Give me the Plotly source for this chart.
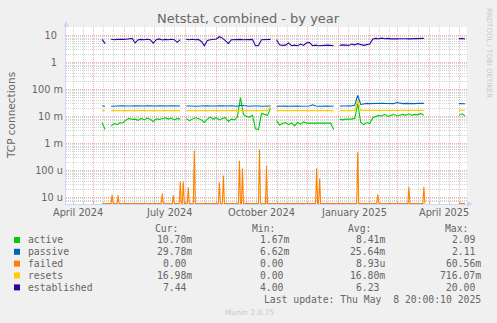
import plotly.graph_objects as go
import pandas as pd

# ---------------- data ----------------
START = pd.Timestamp("2024-04-03 20:00:10")
END = pd.Timestamp("2025-05-08 20:00:10")

# sample positions, days since START (None values mark gaps)
sample_days = list(range(36, 358, 3)) + [375, 392, 395, 398]

established = [
    7.2, 5.0, None, 7.3, 7.0, 7.2, 7.0, 7.2, 7.3, 7.5,
    7.8, 5.3, 7.0, 7.2, 7.0, 7.3, 7.0, 5.2, 7.0, 7.5,
    6.8, 7.2, 7.0, 7.3, 7.0, 5.6, 7.0, None, 7.2, 7.0,
    7.3, 7.0, 7.2, 6.0, 4.2, 6.5, 7.0, 7.2, 7.4, 9.0,
    8.0, 6.5, 5.0, 7.0, 7.2, 7.0, 7.2, 7.0, 7.2, 7.0,
    7.2, 4.2, 4.3, 7.0, 7.2, 7.0, 7.2, None, 7.0, 4.5,
    4.3, 4.4, 5.3, 4.2, 4.4, 4.2, 4.8, 4.3, 5.4, 5.5,
    4.2, 4.4, 4.2, 4.3, 4.2, 4.4, 4.3, 4.2, None, 4.3,
    4.5, 4.4, 4.3, 4.8, 4.5, 5.0, 4.5, 4.3, 4.6, 4.8,
    7.5, 7.8, 7.6, 8.0, 7.6, 7.8, 7.5, 7.7, 7.5, 7.6,
    7.4, 7.6, 7.5, 7.6, 7.5, 7.5, 7.7, 7.8,
    None, 7.6, 7.8, 7.44,
]

active_m = [
    6.0, 3.3, None, 4.5, 5.5, 5.0, 5.8, 6.0, 7.5, 8.5,
    7.8, 8.0, 7.2, 8.5, 7.5, 8.8, 8.0, 6.5, 8.2, 7.8,
    8.5, 9.0, 8.0, 8.8, 7.5, 8.5, 8.0, None, 8.5, 7.0,
    8.0, 9.0, 8.5, 7.5, 6.0, 8.0, 9.5, 8.0, 9.0, 7.5,
    8.5, 9.0, 6.5, 8.0, 7.5, 9.5, 50.0, 12.0, 10.0, 9.5,
    11.0, 3.5, 3.3, 13.0, 12.0, 11.0, 20.0, None, 7.0, 4.8,
    5.5, 6.0, 5.0, 5.8, 4.5, 6.0, 5.2, 6.3, 5.7, 5.7,
    5.7, 5.7, 5.8, 5.7, 5.6, 5.7, 5.7, 3.3, None, 8.0,
    7.5, 8.0, 7.8, 8.0, 8.5, 30.0, 6.0, 5.0, 6.0, 5.5,
    9.0, 10.0, 11.0, 10.5, 12.0, 10.0, 11.0, 12.0, 10.5, 11.5,
    12.0, 11.0, 12.5, 11.0, 12.0, 11.5, 13.0, 11.0,
    None, 11.0, 12.5, 10.7,
]

passive_m = [
    25, 24, None, 24, 24.5, 24, 24.5, 25, 24.5, 24,
    24.5, 25, 24.5, 24, 24.5, 25, 24.5, 24, 24.5, 25,
    24.5, 24, 24.5, 25, 24.5, 24, 24.5, None, 24.5, 25,
    24.5, 24, 24.5, 25, 24.5, 25, 24.5, 24, 24.5, 25,
    24.5, 24, 24.5, 25, 24.5, 24, 26, 25, 24.5, 24,
    24.5, 25, 24.5, 24, 24.5, 25, 24.5, None, 24, 24.5,
    25, 24.5, 24, 24.5, 25, 24.5, 24, 24.5, 25, 24.5,
    27, 24.5, 24, 24.5, 25, 24.5, 24, 24.5, None, 24.5,
    24, 24.5, 25, 24.5, 26, 60, 28, 30, 30.5, 30,
    30.5, 30, 30.5, 31, 30.5, 30, 30.5, 30, 33, 30.5,
    30, 30.5, 30, 30.5, 30, 30.5, 30, 30.5,
    None, 30, 30.5, 29.78,
]

resets_m = [
    16.5, 16.5, None, 16.5, 16.5, 16.5, 16.5, 16.5, 16.5, 16.5,
    16.5, 16.5, 16.5, 16.5, 16.5, 16.5, 16.5, 16.5, 16.5, 16.5,
    16.5, 16.5, 16.5, 16.5, 16.5, 16.5, 16.5, None, 16.5, 16.5,
    16.5, 16.5, 16.5, 16.5, 16.5, 16.5, 16.5, 16.5, 16.5, 16.5,
    16.5, 16.5, 16.5, 16.5, 16.5, 16.5, 17.0, 16.5, 16.5, 16.5,
    16.5, 16.5, 16.5, 16.5, 16.5, 16.5, 25.0, None, 16.5, 16.5,
    16.5, 16.5, 16.5, 16.5, 16.5, 16.5, 16.5, 16.5, 16.5, 16.5,
    16.5, 16.5, 16.5, 16.5, 16.5, 16.5, 16.5, 16.5, None, 16.5,
    16.5, 16.5, 16.5, 16.5, 16.5, 40.0, 16.8, 16.8, 16.8, 16.8,
    16.8, 16.8, 16.8, 16.8, 16.8, 16.8, 16.8, 16.8, 16.8, 16.8,
    16.8, 16.8, 16.8, 16.8, 16.8, 16.8, 16.8, 16.8,
    None, 16.98, 16.98, 16.98,
]

# failed: zero except for these spikes (days since START, value in micro)
failed_spike_days = [46, 52, 96, 107, 114, 117, 122, 128, 153, 157,
                     173, 176, 193, 200, 250, 253, 291, 311, 342, 357]
failed_spike_u = [12.6, 12, 14, 12, 39, 39, 24, 550, 36, 65,
                  230, 120, 600, 150, 120, 50, 470, 13, 25, 25]
failed_first_day, failed_last_day = 36, 357
failed_tail_days = [392, 398]

# legend table text
series_names = ["active", "passive", "failed", "resets", "established"]
series_colors = ["#00CC00", "#0066B3", "#FF8000", "#FFCC00", "#330099"]
cur_vals = ["10.70m", "29.78m", "0.00", "16.98m", "7.44"]
min_vals = ["1.67m", "6.62m", "0.00", "0.00", "4.00"]
avg_vals = ["8.41m", "25.64m", "8.93u", "16.80m", "6.23"]
max_vals = ["2.09", "2.11", "60.56m", "716.07m", "20.00"]

y_tick_vals = [10, 1, 0.1, 0.01, 0.001, 1e-4, 1e-5]
y_tick_text = ["10", "1", "100 m", "10 m", "1 m", "100 u", "10 u"]
x_label_dates = ["2024-04-16", "2024-07-16", "2024-10-16", "2025-01-16", "2025-04-16"]
x_label_text = ["April 2024", "July 2024", "October 2024", "January 2025", "April 2025"]

# ---------------- geometry ----------------
W, H = 497, 323
L, R, T, B = 66, 467, 27, 204
PW, PH = R - L, B - T
YMIN, YMAX = -5.241, 1.315
FLOOR = 10 ** (YMIN + 0.02)


def pxx(x):
    return (x - L) / PW


def pxy(y):
    return (B - y) / PH


def to_dates(days):
    return [START + pd.Timedelta(days=d) for d in days]


xs = to_dates(sample_days)
milli = lambda arr: [None if v is None else v * 1e-3 for v in arr]

# failed series built from spikes
fdays, fvals = [failed_first_day], [0.0]
for d, v in zip(failed_spike_days, failed_spike_u):
    fdays += [d - 1, d, d + 1]
    fvals += [0.0, v * 1e-6, 0.0]
fdays += [failed_last_day + 1, 375] + failed_tail_days
fvals += [0.0, None, 0.0, 0.0]
fplot = [None if v is None else max(v, FLOOR) for v in fvals]

fig = go.Figure()
series_y = [milli(active_m), milli(passive_m), None, milli(resets_m), established]
for name, color, ys in zip(series_names, series_colors, series_y):
    if name == "failed":
        fig.add_trace(go.Scatter(x=to_dates(fdays), y=fplot, mode="lines",
                                 line=dict(color=color, width=1.1), name=name))
    else:
        fig.add_trace(go.Scatter(x=xs, y=ys, mode="lines",
                                 line=dict(color=color, width=1.1), name=name))

month_starts = list(pd.date_range("2024-04-01", "2025-05-01", freq="MS"))
minor_x = []
for ms in month_starts:
    minor_x += [ms + pd.Timedelta(days=10), ms + pd.Timedelta(days=20)]

minor_y = [k * 10.0 ** e for e in range(-6, 2) for k in range(2, 10)]

RED = "rgba(230,100,100,0.50)"
GREY = "rgba(150,150,150,0.42)"
AXIS = "#CFD6F8"
FONT = "DejaVu Sans"
MONO = "DejaVu Sans Mono"
TXT = "#666666"

fig.update_layout(
    width=W, height=H,
    margin=dict(l=L, r=W - R, t=T, b=H - B, pad=0),
    paper_bgcolor="#F0F0F0", plot_bgcolor="#FFFFFF",
    showlegend=False,
    font=dict(family=FONT, size=9.75, color=TXT),
    xaxis=dict(
        type="date", range=[START, END], showline=True, linecolor=AXIS, linewidth=1,
        tickmode="array", tickvals=month_starts, ticktext=[""] * len(month_starts),
        showgrid=True, gridcolor=RED, griddash="1px,1px", gridwidth=1,
        ticks="inside", ticklen=3, tickcolor=RED, zeroline=False,
        minor=dict(tickmode="array", tickvals=minor_x, showgrid=True, gridcolor=GREY,
                   griddash="1px,1px", gridwidth=1, ticks="inside", ticklen=2,
                   tickcolor=GREY),
        fixedrange=True,
    ),
    yaxis=dict(
        type="log", range=[YMIN, YMAX], showline=True, linecolor=AXIS, linewidth=1,
        tickmode="array", tickvals=y_tick_vals,
        ticktext=[t + ("\u00a0\u00a0" if " " not in t else "") for t in y_tick_text],
        showgrid=True, gridcolor=RED, griddash="1px,1px", gridwidth=1,
        ticks="", tickfont=dict(family=FONT, size=9.75, color=TXT),
        zeroline=False,
        minor=dict(tickmode="array", tickvals=minor_y, showgrid=True, gridcolor=GREY,
                   griddash="1px,1px", gridwidth=1),
        fixedrange=True,
    ),
)

ann = []
# title
ann.append(dict(text="Netstat, combined - by year", x=pxx(W / 2), y=pxy(19),
                font=dict(family=FONT, size=13, color=TXT)))
# y title
ann.append(dict(text="TCP connections", x=pxx(11), y=pxy(116), textangle=-90,
                font=dict(family=FONT, size=10.5, color=TXT)))
# side credit
ann.append(dict(text="RRDTOOL / TOBI OETIKER", x=pxx(489), y=pxy(53), textangle=90,
                font=dict(family=FONT, size=7, color="#C8C8C8")))
# x labels
for d, t in zip(x_label_dates, x_label_text):
    ann.append(dict(text=t, x=pd.Timestamp(d), xref="x", y=pxy(212.5),
                    font=dict(family=FONT, size=9.75, color=TXT)))

# legend table
row_y = [240, 251.8, 263.6, 275.5, 287.4]
hdr_y = 228
for lbl, xr in zip(["Cur:", "Min:", "Avg:", "Max:"], [180, 277, 373, 470]):
    ann.append(dict(text=lbl, x=pxx(xr), y=pxy(hdr_y), xanchor="right",
                    font=dict(family=MONO, size=9.75, color=TXT)))
NB = "\u00a0"
for i, name in enumerate(series_names):
    ann.append(dict(text=name, x=pxx(26), y=pxy(row_y[i]), xanchor="left",
                    font=dict(family=MONO, size=9.75, color=TXT)))
    for col, xr in zip([cur_vals, min_vals, avg_vals, max_vals], [194, 291, 387, 483]):
        v = col[i]
        if v[-1].isdigit():
            v = v + NB
        ann.append(dict(text=v, x=pxx(xr), y=pxy(row_y[i]), xanchor="right",
                        font=dict(family=MONO, size=9.75, color=TXT)))
ann.append(dict(text="Last update: Thu May" + NB + " 8 20:00:10 2025", x=pxx(483),
                y=pxy(299.3), xanchor="right", font=dict(family=MONO, size=9.75, color=TXT)))
ann.append(dict(text="Munin 2.0.75", x=pxx(223), y=pxy(312), xanchor="left",
                font=dict(family=FONT, size=7.5, color="#C8C8C8")))

for a in ann:
    a.setdefault("xref", "paper")
    a["yref"] = "paper"
    a["showarrow"] = False
    a.setdefault("xanchor", "center")
    a["yanchor"] = "middle"
fig.update_layout(annotations=ann)

shapes = []
# legend squares
for i, c in enumerate(series_colors):
    shapes.append(dict(type="rect", xref="paper", yref="paper",
                       x0=pxx(14), x1=pxx(20), y0=pxy(row_y[i] + 3), y1=pxy(row_y[i] - 3),
                       fillcolor=c, line=dict(width=0)))
# axis arrows
shapes.append(dict(type="path", xref="paper", yref="paper",
                   path=f"M {pxx(63)},{pxy(27)} L {pxx(69)},{pxy(27)} L {pxx(66)},{pxy(21)} Z",
                   fillcolor=AXIS, line=dict(width=0)))
shapes.append(dict(type="path", xref="paper", yref="paper",
                   path=f"M {pxx(467)},{pxy(201)} L {pxx(467)},{pxy(207)} L {pxx(473)},{pxy(204)} Z",
                   fillcolor=AXIS, line=dict(width=0)))
fig.update_layout(shapes=shapes)

fig.write_html("out.html", config={"displayModeBar": False},
               post_script="document.body.style.margin='0px';document.body.style.overflow='hidden';")
